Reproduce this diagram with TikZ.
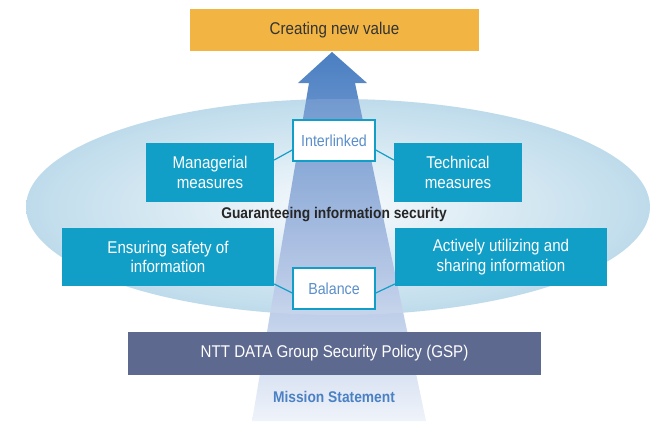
\documentclass[tikz,border=0pt]{standalone}
\usepackage{fontspec}
\setmainfont{Liberation Sans}[FakeStretch=0.89]
\usepackage{xcolor}
\usetikzlibrary{positioning,calc}
\definecolor{valuegold}{HTML}{F2B544}
\definecolor{measteal}{HTML}{119FC8}
\definecolor{gspslate}{HTML}{5E6990}
\definecolor{missblue}{HTML}{4A80C4}
\definecolor{chiptext}{HTML}{5B8FCB}
\definecolor{inkgray}{HTML}{333333}
\definecolor{ovalrim}{HTML}{B6D7E9}
\definecolor{ovalcore}{HTML}{F6FAFD}
\definecolor{beamtop}{HTML}{4A7FC2}
\definecolor{beammid}{HTML}{9CB4DD}
\definecolor{beambot}{HTML}{EFF3FA}
\newcommand{\BodyFont}{\fontsize{17}{19.5}\selectfont}
\newcommand{\HeadFont}{\bfseries\fontsize{15.5}{18}\selectfont}

\begin{document}
\begin{tikzpicture}[
  x=1pt, y=-1pt,
  every node/.style={inner sep=0pt, align=center},
  measure/.style={rectangle, fill=measteal, text=white, font=\BodyFont},
  chip/.style={rectangle, fill=white, draw=measteal, line width=1.5pt,
    minimum width=82pt, minimum height=41pt, text=chiptext,
    font=\fontsize{16}{18}\selectfont},
  link/.style={draw=measteal, line width=1.2pt}
]
\useasboundingbox (0,0) rectangle (662,421);

% ---------- Oval ----------
\path[inner color=ovalcore, outer color=ovalrim] (338,207) ellipse [x radius=312, y radius=108];

% ---------- Beam arrow ----------
\path[top color=beamtop, bottom color=beambot, middle color=beammid]
  (332,52) -- (367,83) -- (355,83) -- (426,421) -- (252,421) -- (309,83) -- (298,83) -- cycle;
\path[fill=white, fill opacity=0.12] (338,207) ellipse [x radius=312, y radius=108];

% ---------- Top goal ----------
\node[rectangle, fill=valuegold, text=inkgray, font=\BodyFont,
  minimum width=289pt, minimum height=42pt] (value) at (334.5,30) {Creating new value};

% ---------- Measures ----------
\node[measure, minimum width=128pt, minimum height=59pt] (mgr) at (210,172.5) {Managerial\\measures};
\node[measure, minimum width=128pt, minimum height=59pt] (tech) at (458,172.5) {Technical\\measures};
\node[measure, minimum width=212pt, minimum height=58pt] (safe) at (168,257) {Ensuring safety of\\information};
\node[measure, minimum width=212pt, minimum height=58pt] (share) at (501,257) {Actively utilizing and\\sharing information};

\node[chip] (inter) at (334,140.5) {Interlinked};
\node[chip] (bal) at (334,288.5) {Balance};

\node[font=\HeadFont, text=black!85] (guar) at (334,215) {Guaranteeing information security};

% ---------- Links ----------
\draw[link] ([yshift=12.5pt]mgr.east) -- ([yshift=-9.5pt]inter.west);
\draw[link] ([yshift=-9.5pt]inter.east) -- ([yshift=12.5pt]tech.west);
\draw[link] ([yshift=-27pt]safe.east) -- ([yshift=-4.5pt]bal.west);
\draw[link] ([yshift=-4.5pt]bal.east) -- ([yshift=-27pt]share.west);

% ---------- Foundation ----------
\node[rectangle, fill=gspslate, text=white, font=\BodyFont,
  minimum width=413pt, minimum height=43pt] (gsp) at (334.5,353.5) {NTT DATA Group Security Policy (GSP)};
\node[font=\HeadFont, text=missblue] (mission) at (334,397) {Mission Statement};

\end{tikzpicture}
\end{document}
